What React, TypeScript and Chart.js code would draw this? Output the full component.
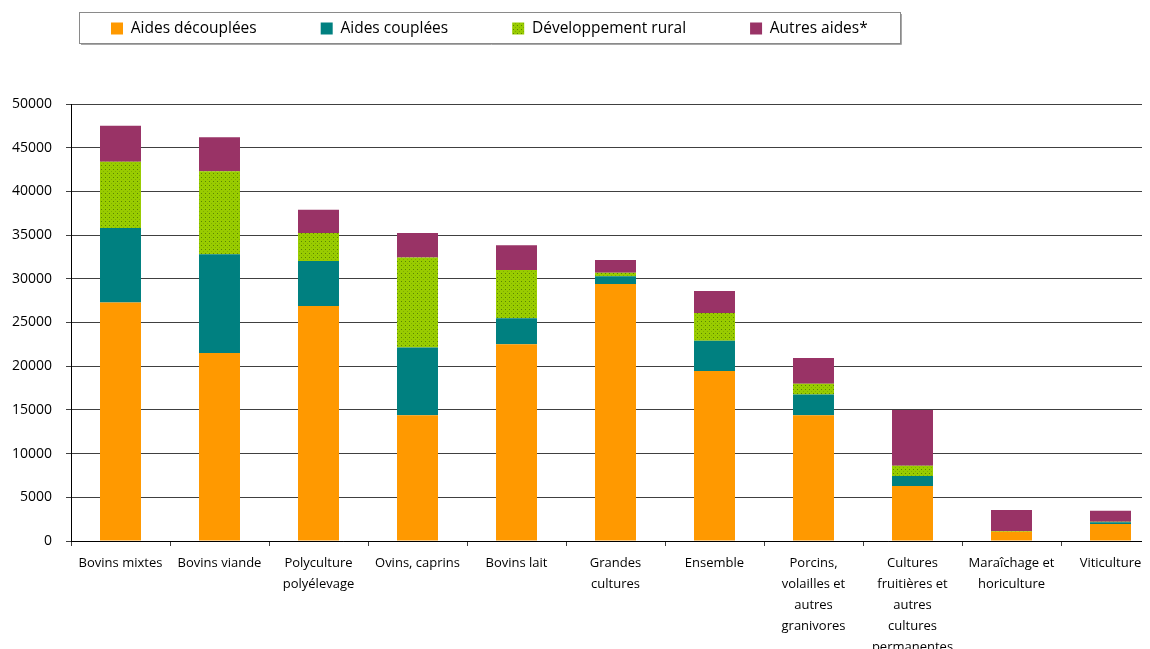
import React, { useEffect, useRef } from 'react';
import { Chart, registerables } from 'chart.js';

Chart.register(...registerables);

const categories: (string | string[])[] = [
  'Bovins mixtes',
  'Bovins viande',
  ['Polyculture', 'polyélevage'],
  'Ovins, caprins',
  'Bovins lait',
  ['Grandes', 'cultures'],
  'Ensemble',
  ['Porcins,', 'volailles et', 'autres', 'granivores'],
  ['Cultures', 'fruitières et', 'autres', 'cultures', 'permanentes'],
  ['Maraîchage et', 'horiculture'],
  'Viticulture',
];

const seriesNames = ['Aides découplées', 'Aides couplées', 'Développement rural', 'Autres aides*'];

const aidesDecouplees = [27300, 21500, 26900, 14400, 22500, 29400, 19450, 14400, 6300, 1050, 1950];
const aidesCouplees = [8500, 11300, 5150, 7750, 3000, 900, 3450, 2350, 1150, 0, 200];
const developpementRural = [7600, 9500, 3200, 10300, 5500, 400, 3200, 1250, 1150, 100, 50];
const autresAides = [4100, 3900, 2650, 2800, 2850, 1450, 2500, 2950, 6400, 2400, 1250];

const yMin = 0;
const yMax = 50000;
const yStep = 5000;

const FONT = "'Open Sans', 'Liberation Sans', sans-serif";

function makeDots(): CanvasPattern | string {
  const c = document.createElement('canvas');
  c.width = 4;
  c.height = 4;
  const g = c.getContext('2d');
  if (!g) return '#99CC00';
  g.fillStyle = '#99CC00';
  g.fillRect(0, 0, 4, 4);
  g.fillStyle = '#5A8600';
  g.fillRect(1, 1, 1, 1);
  g.fillStyle = '#80AE00';
  g.fillRect(3, 3, 1, 1);
  const p = g.createPattern(c, 'repeat');
  return p || '#99CC00';
}

export default function App() {
  const ref = useRef<HTMLCanvasElement>(null);

  useEffect(() => {
    document.documentElement.style.overflow = 'hidden';
    const canvas = ref.current;
    if (!canvas) return;
    const ctx = canvas.getContext('2d');
    if (!ctx) return;
    const dots = makeDots();

    const legendFrame = {
      id: 'legendFrame',
      afterInit(chart: any) {
        const lg = chart.legend;
        if (lg) {
          const orig = lg.fit.bind(lg);
          lg.fit = () => {
            orig();
            lg.height = 96;
          };
        }
      },
      afterLayout(chart: any) {
        const lg = chart.legend;
        if (lg) {
          lg.left = 39;
          lg.top = -51.25;
        }
      },
      afterDraw(chart: any) {
        const c = chart.ctx;
        c.save();
        c.strokeStyle = '#8a8a8a';
        c.lineWidth = 1;
        c.strokeRect(71.5, 4.5, 821, 31);
        c.strokeStyle = '#a8a8a8';
        c.beginPath();
        c.moveTo(73, 36.5);
        c.lineTo(893.5, 36.5);
        c.lineTo(893.5, 6);
        c.stroke();
        c.restore();
      },
    };

    const chart = new Chart(ctx, {
      type: 'bar',
      data: {
        labels: categories,
        datasets: [
          { label: seriesNames[0], data: aidesDecouplees, backgroundColor: '#FF9900', borderWidth: 0 },
          { label: seriesNames[1], data: aidesCouplees, backgroundColor: '#008080', borderWidth: 0 },
          { label: seriesNames[2], data: developpementRural, backgroundColor: dots as any, borderWidth: 0 },
          { label: seriesNames[3], data: autresAides, backgroundColor: '#993366', borderWidth: 0 },
        ],
      },
      options: {
        responsive: false,
        animation: false,
        devicePixelRatio: 1,
        layout: { padding: 0 },
        datasets: {
          bar: { categoryPercentage: 1, barPercentage: 0.414 },
        },
        plugins: {
          tooltip: { enabled: false },
          legend: {
            display: true,
            position: 'top',
            align: 'start',
            labels: {
              boxWidth: 12,
              boxHeight: 12,
              padding: 64,
              color: '#000',
              font: { family: FONT, size: 15.5 },
            },
          },
        },
        scales: {
          x: {
            stacked: true,
            offset: true,
            afterFit: (scale: any) => {
              scale.height = 147;
            },
            grid: {
              display: true,
              drawOnChartArea: false,
              drawTicks: true,
              tickLength: 5,
              color: '#404040',
              offset: true,
            },
            border: { display: true, color: '#000', width: 1 },
            ticks: {
              autoSkip: false,
              maxRotation: 0,
              minRotation: 0,
              padding: 7,
              color: '#000',
              font: { family: FONT, size: 13, lineHeight: 21 / 13 },
            },
          },
          y: {
            stacked: true,
            min: yMin,
            max: yMax,
            afterFit: (scale: any) => {
              scale.width = 63;
            },
            grid: {
              color: '#404040',
              lineWidth: 1,
              drawTicks: true,
              tickLength: 5,
            },
            border: { display: true, color: '#000', width: 1 },
            ticks: {
              stepSize: yStep,
              padding: 14,
              color: '#000',
              font: { family: FONT, size: 14 },
              callback: (v: any) => String(v),
            },
          },
        },
      },
      plugins: [legendFrame],
    } as any);

    return () => chart.destroy();
  }, []);

  return (
    <div style={{ width: 1142, height: 641, overflow: 'hidden' }}>
      <canvas ref={ref} width={1152} height={680} style={{ display: 'block', width: 1152, height: 680 }} />
    </div>
  );
}
